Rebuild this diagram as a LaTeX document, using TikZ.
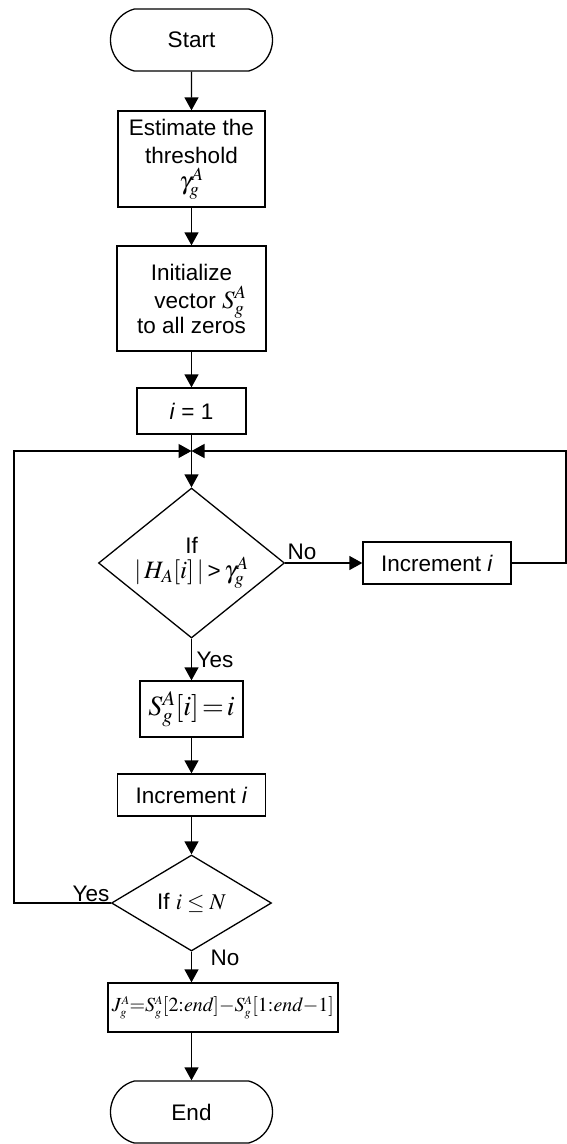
\documentclass[tikz,border=0pt]{standalone}
\usepackage{graphicx}
\usepackage{mathptmx}
\usepackage[no-math]{fontspec}
\setmainfont{Liberation Sans}
\usetikzlibrary{arrows.meta,shapes.geometric,shapes.misc}

% formulas set a little larger than the surrounding text
\newcommand{\bigmath}[1]{{\fontsize{25}{28}\selectfont$#1$}}
% tight operators and small stacked scripts for the difference formula
\newcommand{\teq}{\mathord{=}}
\newcommand{\tmin}{\mathord{-}}
\newcommand{\sga}[1]{#1^{\scriptscriptstyle A}_{\scriptscriptstyle g}}

\begin{document}
\begin{tikzpicture}[x=1pt,y=-1pt,line width=1.3pt,
  every node/.style={font=\fontsize{22.5}{28}\selectfont,inner sep=0pt},
  proc/.style={draw,rectangle,align=center},
  term/.style={draw,rounded rectangle,rounded rectangle arc length=150,
    minimum width=162pt,minimum height=62pt},
  decide/.style={draw,diamond,align=center},
  flow/.style={-{Triangle[length=13pt,width=14pt]}}]

\useasboundingbox (0,0) rectangle (567,1144);

% main column
\node[term] (start) at (191.5,40) {Start};
\node[proc,minimum width=147pt,minimum height=96pt] (est) at (191.5,159)
  {Estimate the\\threshold\\[-2pt]\bigmath{\gamma^A_g}};
\node[proc,minimum width=149pt,minimum height=105pt] (ini) at (191.5,298.5)
  {Initialize\\\hspace*{18pt}vector \bigmath{S^A_g}\\[-3pt]to all zeros};
\node[proc,minimum width=109pt,minimum height=46pt] (one) at (191.5,411)
  {\textit{i} = 1};
\coordinate (jn) at (191.5,451);
\node[decide,minimum width=186pt,minimum height=150pt,aspect=1.24] (d1) at (191.5,563)
  {If\\[-3pt]\bigmath{|\,H_A[i]\,|}\,>\,\bigmath{\gamma^A_g}};
\node[proc,minimum width=148pt,minimum height=42pt] (incR) at (437,563)
  {Increment \textit{i}};
\node[proc,minimum width=103pt,minimum height=56pt,font=\fontsize{28}{32}\selectfont] (set) at (191.5,709)
  {$S^A_g[i]\!=\!i$};
\node[proc,minimum width=148pt,minimum height=42pt] (incL) at (191.5,795)
  {Increment \textit{i}};
\node[decide,minimum width=160pt,minimum height=96pt,aspect=1.67] (d2) at (191.5,903)
  {If $i\le N$};
\node[proc,minimum width=230pt,minimum height=49pt,font=\fontsize{25}{28}\selectfont] (jmp) at (223,1007.5)
  {\resizebox{222pt}{!}{$\sga{J}\teq\sga{S}[2{:}\mathit{end}]\tmin\sga{S}[1{:}\mathit{end}\tmin1]$}};
\node[term] (end) at (191.5,1112) {End};

% branch labels
\node[anchor=base west] (noA) at (287,559) {No};
\node[anchor=base west] (yesA) at (196,667) {Yes};
\node[anchor=base east] (yesB) at (110,901) {Yes};
\node[anchor=base west] (noB) at (210,965) {No};

% straight connectors
\draw[flow] (start) -- (est);
\draw[flow] (est) -- (ini);
\draw[flow] (ini) -- (one);
\draw[flow] (one) -- (d1);
\draw[flow] (d1) -- (incR);
\draw[flow] (d1) -- (set);
\draw[flow] (set) -- (incL);
\draw[flow] (incL) -- (d2);
\draw[flow] (d2.south) -- (d2.south |- jmp.north);
\draw[flow] (end.north |- jmp.south) -- (end.north);

% loop-back connectors
\coordinate (rc) at (566,451);
\coordinate (lc) at (14,451);
\draw[flow] (incR.east) -| (rc) -- (jn);
\draw[flow] (d2.west) -| (lc) -- (jn);
\end{tikzpicture}
\end{document}
